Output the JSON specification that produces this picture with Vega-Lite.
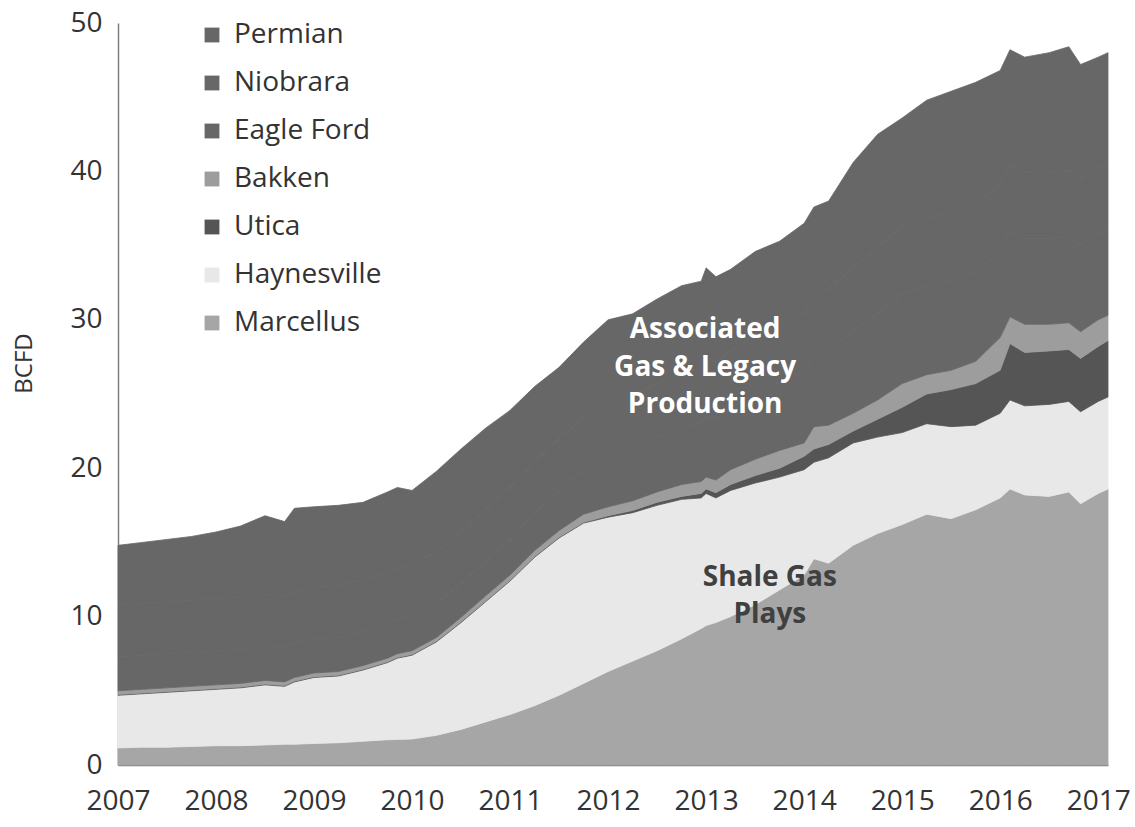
{
  "$schema": "https://vega.github.io/schema/vega-lite/v6.json",
  "width": 990,
  "height": 742,
  "autosize": {"type": "none"},
  "padding": {"left": 118, "top": 23, "right": 27, "bottom": 62},
  "background": "white",
  "config": {"view": {"stroke": null}, "font": "Open Sans"},
  "datasets": {
    "rank": [
      {"s":"Marcellus","k":1},{"s":"Haynesville","k":2},{"s":"Utica","k":3},{"s":"Bakken","k":4},{"s":"Eagle Ford","k":5},{"s":"Niobrara","k":6},{"s":"Permian","k":7}
    ],
    "prod": [
      {"t":2007.00,"s":"Marcellus","v":1.15},{"t":2007.00,"s":"Haynesville","v":3.55},{"t":2007.00,"s":"Utica","v":0.05},{"t":2007.00,"s":"Bakken","v":0.25},{"t":2007.00,"s":"Eagle Ford","v":2.3},{"t":2007.00,"s":"Niobrara","v":3.5},{"t":2007.00,"s":"Permian","v":4.0},
      {"t":2007.25,"s":"Marcellus","v":1.2},{"t":2007.25,"s":"Haynesville","v":3.6},{"t":2007.25,"s":"Utica","v":0.05},{"t":2007.25,"s":"Bakken","v":0.25},{"t":2007.25,"s":"Eagle Ford","v":2.3},{"t":2007.25,"s":"Niobrara","v":3.5},{"t":2007.25,"s":"Permian","v":4.1},
      {"t":2007.50,"s":"Marcellus","v":1.2},{"t":2007.50,"s":"Haynesville","v":3.7},{"t":2007.50,"s":"Utica","v":0.05},{"t":2007.50,"s":"Bakken","v":0.25},{"t":2007.50,"s":"Eagle Ford","v":2.3},{"t":2007.50,"s":"Niobrara","v":3.5},{"t":2007.50,"s":"Permian","v":4.2},
      {"t":2007.75,"s":"Marcellus","v":1.25},{"t":2007.75,"s":"Haynesville","v":3.75},{"t":2007.75,"s":"Utica","v":0.05},{"t":2007.75,"s":"Bakken","v":0.25},{"t":2007.75,"s":"Eagle Ford","v":2.3},{"t":2007.75,"s":"Niobrara","v":3.5},{"t":2007.75,"s":"Permian","v":4.3},
      {"t":2008.00,"s":"Marcellus","v":1.3},{"t":2008.00,"s":"Haynesville","v":3.8},{"t":2008.00,"s":"Utica","v":0.05},{"t":2008.00,"s":"Bakken","v":0.25},{"t":2008.00,"s":"Eagle Ford","v":2.3},{"t":2008.00,"s":"Niobrara","v":3.5},{"t":2008.00,"s":"Permian","v":4.5},
      {"t":2008.25,"s":"Marcellus","v":1.3},{"t":2008.25,"s":"Haynesville","v":3.9},{"t":2008.25,"s":"Utica","v":0.05},{"t":2008.25,"s":"Bakken","v":0.25},{"t":2008.25,"s":"Eagle Ford","v":2.3},{"t":2008.25,"s":"Niobrara","v":3.5},{"t":2008.25,"s":"Permian","v":4.8},
      {"t":2008.50,"s":"Marcellus","v":1.35},{"t":2008.50,"s":"Haynesville","v":4.05},{"t":2008.50,"s":"Utica","v":0.05},{"t":2008.50,"s":"Bakken","v":0.25},{"t":2008.50,"s":"Eagle Ford","v":2.3},{"t":2008.50,"s":"Niobrara","v":3.5},{"t":2008.50,"s":"Permian","v":5.3},
      {"t":2008.70,"s":"Marcellus","v":1.4},{"t":2008.70,"s":"Haynesville","v":3.9},{"t":2008.70,"s":"Utica","v":0.05},{"t":2008.70,"s":"Bakken","v":0.25},{"t":2008.70,"s":"Eagle Ford","v":2.3},{"t":2008.70,"s":"Niobrara","v":3.5},{"t":2008.70,"s":"Permian","v":5.0},
      {"t":2008.80,"s":"Marcellus","v":1.4},{"t":2008.80,"s":"Haynesville","v":4.2},{"t":2008.80,"s":"Utica","v":0.05},{"t":2008.80,"s":"Bakken","v":0.25},{"t":2008.80,"s":"Eagle Ford","v":2.3},{"t":2008.80,"s":"Niobrara","v":3.5},{"t":2008.80,"s":"Permian","v":5.6},
      {"t":2009.00,"s":"Marcellus","v":1.45},{"t":2009.00,"s":"Haynesville","v":4.45},{"t":2009.00,"s":"Utica","v":0.05},{"t":2009.00,"s":"Bakken","v":0.25},{"t":2009.00,"s":"Eagle Ford","v":2.3},{"t":2009.00,"s":"Niobrara","v":3.5},{"t":2009.00,"s":"Permian","v":5.4},
      {"t":2009.25,"s":"Marcellus","v":1.5},{"t":2009.25,"s":"Haynesville","v":4.5},{"t":2009.25,"s":"Utica","v":0.05},{"t":2009.25,"s":"Bakken","v":0.25},{"t":2009.25,"s":"Eagle Ford","v":2.3},{"t":2009.25,"s":"Niobrara","v":3.5},{"t":2009.25,"s":"Permian","v":5.4},
      {"t":2009.50,"s":"Marcellus","v":1.6},{"t":2009.50,"s":"Haynesville","v":4.8},{"t":2009.50,"s":"Utica","v":0.05},{"t":2009.50,"s":"Bakken","v":0.25},{"t":2009.50,"s":"Eagle Ford","v":2.3},{"t":2009.50,"s":"Niobrara","v":3.5},{"t":2009.50,"s":"Permian","v":5.2},
      {"t":2009.75,"s":"Marcellus","v":1.7},{"t":2009.75,"s":"Haynesville","v":5.2},{"t":2009.75,"s":"Utica","v":0.05},{"t":2009.75,"s":"Bakken","v":0.25},{"t":2009.75,"s":"Eagle Ford","v":2.3},{"t":2009.75,"s":"Niobrara","v":3.5},{"t":2009.75,"s":"Permian","v":5.4},
      {"t":2009.85,"s":"Marcellus","v":1.72},{"t":2009.85,"s":"Haynesville","v":5.48},{"t":2009.85,"s":"Utica","v":0.05},{"t":2009.85,"s":"Bakken","v":0.25},{"t":2009.85,"s":"Eagle Ford","v":2.3},{"t":2009.85,"s":"Niobrara","v":3.5},{"t":2009.85,"s":"Permian","v":5.4},
      {"t":2010.00,"s":"Marcellus","v":1.75},{"t":2010.00,"s":"Haynesville","v":5.65},{"t":2010.00,"s":"Utica","v":0.05},{"t":2010.00,"s":"Bakken","v":0.25},{"t":2010.00,"s":"Eagle Ford","v":2.3},{"t":2010.00,"s":"Niobrara","v":3.5},{"t":2010.00,"s":"Permian","v":5.0},
      {"t":2010.25,"s":"Marcellus","v":2.0},{"t":2010.25,"s":"Haynesville","v":6.3},{"t":2010.25,"s":"Utica","v":0.05},{"t":2010.25,"s":"Bakken","v":0.25},{"t":2010.25,"s":"Eagle Ford","v":2.3},{"t":2010.25,"s":"Niobrara","v":3.5},{"t":2010.25,"s":"Permian","v":5.4},
      {"t":2010.50,"s":"Marcellus","v":2.4},{"t":2010.50,"s":"Haynesville","v":7.2},{"t":2010.50,"s":"Utica","v":0.05},{"t":2010.50,"s":"Bakken","v":0.3},{"t":2010.50,"s":"Eagle Ford","v":2.3},{"t":2010.50,"s":"Niobrara","v":3.5},{"t":2010.50,"s":"Permian","v":5.55},
      {"t":2010.75,"s":"Marcellus","v":2.9},{"t":2010.75,"s":"Haynesville","v":8.1},{"t":2010.75,"s":"Utica","v":0.05},{"t":2010.75,"s":"Bakken","v":0.35},{"t":2010.75,"s":"Eagle Ford","v":2.3},{"t":2010.75,"s":"Niobrara","v":3.5},{"t":2010.75,"s":"Permian","v":5.5},
      {"t":2011.00,"s":"Marcellus","v":3.4},{"t":2011.00,"s":"Haynesville","v":9.0},{"t":2011.00,"s":"Utica","v":0.05},{"t":2011.00,"s":"Bakken","v":0.35},{"t":2011.00,"s":"Eagle Ford","v":2.4},{"t":2011.00,"s":"Niobrara","v":3.5},{"t":2011.00,"s":"Permian","v":5.2},
      {"t":2011.25,"s":"Marcellus","v":4.0},{"t":2011.25,"s":"Haynesville","v":10.0},{"t":2011.25,"s":"Utica","v":0.05},{"t":2011.25,"s":"Bakken","v":0.4},{"t":2011.25,"s":"Eagle Ford","v":2.5},{"t":2011.25,"s":"Niobrara","v":3.5},{"t":2011.25,"s":"Permian","v":5.05},
      {"t":2011.50,"s":"Marcellus","v":4.7},{"t":2011.50,"s":"Haynesville","v":10.6},{"t":2011.50,"s":"Utica","v":0.05},{"t":2011.50,"s":"Bakken","v":0.45},{"t":2011.50,"s":"Eagle Ford","v":2.7},{"t":2011.50,"s":"Niobrara","v":3.5},{"t":2011.50,"s":"Permian","v":4.8},
      {"t":2011.75,"s":"Marcellus","v":5.5},{"t":2011.75,"s":"Haynesville","v":10.8},{"t":2011.75,"s":"Utica","v":0.05},{"t":2011.75,"s":"Bakken","v":0.55},{"t":2011.75,"s":"Eagle Ford","v":3.0},{"t":2011.75,"s":"Niobrara","v":3.5},{"t":2011.75,"s":"Permian","v":5.1},
      {"t":2012.00,"s":"Marcellus","v":6.3},{"t":2012.00,"s":"Haynesville","v":10.4},{"t":2012.00,"s":"Utica","v":0.1},{"t":2012.00,"s":"Bakken","v":0.6},{"t":2012.00,"s":"Eagle Ford","v":3.3},{"t":2012.00,"s":"Niobrara","v":3.6},{"t":2012.00,"s":"Permian","v":5.7},
      {"t":2012.25,"s":"Marcellus","v":7.0},{"t":2012.25,"s":"Haynesville","v":10.0},{"t":2012.25,"s":"Utica","v":0.15},{"t":2012.25,"s":"Bakken","v":0.65},{"t":2012.25,"s":"Eagle Ford","v":3.5},{"t":2012.25,"s":"Niobrara","v":3.6},{"t":2012.25,"s":"Permian","v":5.5},
      {"t":2012.50,"s":"Marcellus","v":7.7},{"t":2012.50,"s":"Haynesville","v":9.8},{"t":2012.50,"s":"Utica","v":0.2},{"t":2012.50,"s":"Bakken","v":0.7},{"t":2012.50,"s":"Eagle Ford","v":3.7},{"t":2012.50,"s":"Niobrara","v":3.6},{"t":2012.50,"s":"Permian","v":5.7},
      {"t":2012.75,"s":"Marcellus","v":8.5},{"t":2012.75,"s":"Haynesville","v":9.4},{"t":2012.75,"s":"Utica","v":0.2},{"t":2012.75,"s":"Bakken","v":0.8},{"t":2012.75,"s":"Eagle Ford","v":3.9},{"t":2012.75,"s":"Niobrara","v":3.6},{"t":2012.75,"s":"Permian","v":5.9},
      {"t":2012.95,"s":"Marcellus","v":9.2},{"t":2012.95,"s":"Haynesville","v":8.8},{"t":2012.95,"s":"Utica","v":0.3},{"t":2012.95,"s":"Bakken","v":0.8},{"t":2012.95,"s":"Eagle Ford","v":4.0},{"t":2012.95,"s":"Niobrara","v":3.7},{"t":2012.95,"s":"Permian","v":5.8},
      {"t":2013.00,"s":"Marcellus","v":9.4},{"t":2013.00,"s":"Haynesville","v":8.9},{"t":2013.00,"s":"Utica","v":0.3},{"t":2013.00,"s":"Bakken","v":0.8},{"t":2013.00,"s":"Eagle Ford","v":4.1},{"t":2013.00,"s":"Niobrara","v":3.8},{"t":2013.00,"s":"Permian","v":6.2},
      {"t":2013.10,"s":"Marcellus","v":9.6},{"t":2013.10,"s":"Haynesville","v":8.4},{"t":2013.10,"s":"Utica","v":0.35},{"t":2013.10,"s":"Bakken","v":0.85},{"t":2013.10,"s":"Eagle Ford","v":4.1},{"t":2013.10,"s":"Niobrara","v":3.8},{"t":2013.10,"s":"Permian","v":5.8},
      {"t":2013.25,"s":"Marcellus","v":10.0},{"t":2013.25,"s":"Haynesville","v":8.5},{"t":2013.25,"s":"Utica","v":0.4},{"t":2013.25,"s":"Bakken","v":1.0},{"t":2013.25,"s":"Eagle Ford","v":4.2},{"t":2013.25,"s":"Niobrara","v":3.8},{"t":2013.25,"s":"Permian","v":5.5},
      {"t":2013.50,"s":"Marcellus","v":10.8},{"t":2013.50,"s":"Haynesville","v":8.2},{"t":2013.50,"s":"Utica","v":0.5},{"t":2013.50,"s":"Bakken","v":1.1},{"t":2013.50,"s":"Eagle Ford","v":4.4},{"t":2013.50,"s":"Niobrara","v":3.9},{"t":2013.50,"s":"Permian","v":5.7},
      {"t":2013.75,"s":"Marcellus","v":11.8},{"t":2013.75,"s":"Haynesville","v":7.6},{"t":2013.75,"s":"Utica","v":0.6},{"t":2013.75,"s":"Bakken","v":1.2},{"t":2013.75,"s":"Eagle Ford","v":4.6},{"t":2013.75,"s":"Niobrara","v":3.9},{"t":2013.75,"s":"Permian","v":5.6},
      {"t":2014.00,"s":"Marcellus","v":12.8},{"t":2014.00,"s":"Haynesville","v":7.1},{"t":2014.00,"s":"Utica","v":0.9},{"t":2014.00,"s":"Bakken","v":0.9},{"t":2014.00,"s":"Eagle Ford","v":4.8},{"t":2014.00,"s":"Niobrara","v":4.0},{"t":2014.00,"s":"Permian","v":6.0},
      {"t":2014.10,"s":"Marcellus","v":13.9},{"t":2014.10,"s":"Haynesville","v":6.5},{"t":2014.10,"s":"Utica","v":0.9},{"t":2014.10,"s":"Bakken","v":1.5},{"t":2014.10,"s":"Eagle Ford","v":4.9},{"t":2014.10,"s":"Niobrara","v":4.0},{"t":2014.10,"s":"Permian","v":5.9},
      {"t":2014.25,"s":"Marcellus","v":13.6},{"t":2014.25,"s":"Haynesville","v":7.1},{"t":2014.25,"s":"Utica","v":0.9},{"t":2014.25,"s":"Bakken","v":1.3},{"t":2014.25,"s":"Eagle Ford","v":5.1},{"t":2014.25,"s":"Niobrara","v":4.1},{"t":2014.25,"s":"Permian","v":5.9},
      {"t":2014.50,"s":"Marcellus","v":14.8},{"t":2014.50,"s":"Haynesville","v":6.9},{"t":2014.50,"s":"Utica","v":0.8},{"t":2014.50,"s":"Bakken","v":1.2},{"t":2014.50,"s":"Eagle Ford","v":5.5},{"t":2014.50,"s":"Niobrara","v":4.3},{"t":2014.50,"s":"Permian","v":7.1},
      {"t":2014.75,"s":"Marcellus","v":15.6},{"t":2014.75,"s":"Haynesville","v":6.5},{"t":2014.75,"s":"Utica","v":1.2},{"t":2014.75,"s":"Bakken","v":1.3},{"t":2014.75,"s":"Eagle Ford","v":5.8},{"t":2014.75,"s":"Niobrara","v":4.5},{"t":2014.75,"s":"Permian","v":7.6},
      {"t":2015.00,"s":"Marcellus","v":16.2},{"t":2015.00,"s":"Haynesville","v":6.2},{"t":2015.00,"s":"Utica","v":1.7},{"t":2015.00,"s":"Bakken","v":1.6},{"t":2015.00,"s":"Eagle Ford","v":6.0},{"t":2015.00,"s":"Niobrara","v":4.6},{"t":2015.00,"s":"Permian","v":7.3},
      {"t":2015.25,"s":"Marcellus","v":16.9},{"t":2015.25,"s":"Haynesville","v":6.1},{"t":2015.25,"s":"Utica","v":2.0},{"t":2015.25,"s":"Bakken","v":1.3},{"t":2015.25,"s":"Eagle Ford","v":6.0},{"t":2015.25,"s":"Niobrara","v":4.6},{"t":2015.25,"s":"Permian","v":7.9},
      {"t":2015.50,"s":"Marcellus","v":16.6},{"t":2015.50,"s":"Haynesville","v":6.2},{"t":2015.50,"s":"Utica","v":2.5},{"t":2015.50,"s":"Bakken","v":1.3},{"t":2015.50,"s":"Eagle Ford","v":6.0},{"t":2015.50,"s":"Niobrara","v":4.6},{"t":2015.50,"s":"Permian","v":8.2},
      {"t":2015.75,"s":"Marcellus","v":17.2},{"t":2015.75,"s":"Haynesville","v":5.7},{"t":2015.75,"s":"Utica","v":2.8},{"t":2015.75,"s":"Bakken","v":1.5},{"t":2015.75,"s":"Eagle Ford","v":6.0},{"t":2015.75,"s":"Niobrara","v":4.6},{"t":2015.75,"s":"Permian","v":8.2},
      {"t":2016.00,"s":"Marcellus","v":18.0},{"t":2016.00,"s":"Haynesville","v":5.7},{"t":2016.00,"s":"Utica","v":2.9},{"t":2016.00,"s":"Bakken","v":2.2},{"t":2016.00,"s":"Eagle Ford","v":5.8},{"t":2016.00,"s":"Niobrara","v":4.5},{"t":2016.00,"s":"Permian","v":7.7},
      {"t":2016.10,"s":"Marcellus","v":18.6},{"t":2016.10,"s":"Haynesville","v":6.0},{"t":2016.10,"s":"Utica","v":3.8},{"t":2016.10,"s":"Bakken","v":1.8},{"t":2016.10,"s":"Eagle Ford","v":5.8},{"t":2016.10,"s":"Niobrara","v":4.5},{"t":2016.10,"s":"Permian","v":7.7},
      {"t":2016.25,"s":"Marcellus","v":18.2},{"t":2016.25,"s":"Haynesville","v":6.0},{"t":2016.25,"s":"Utica","v":3.6},{"t":2016.25,"s":"Bakken","v":1.9},{"t":2016.25,"s":"Eagle Ford","v":5.8},{"t":2016.25,"s":"Niobrara","v":4.5},{"t":2016.25,"s":"Permian","v":7.7},
      {"t":2016.50,"s":"Marcellus","v":18.1},{"t":2016.50,"s":"Haynesville","v":6.2},{"t":2016.50,"s":"Utica","v":3.6},{"t":2016.50,"s":"Bakken","v":1.8},{"t":2016.50,"s":"Eagle Ford","v":5.8},{"t":2016.50,"s":"Niobrara","v":4.5},{"t":2016.50,"s":"Permian","v":8.0},
      {"t":2016.70,"s":"Marcellus","v":18.4},{"t":2016.70,"s":"Haynesville","v":6.1},{"t":2016.70,"s":"Utica","v":3.5},{"t":2016.70,"s":"Bakken","v":1.8},{"t":2016.70,"s":"Eagle Ford","v":5.8},{"t":2016.70,"s":"Niobrara","v":4.5},{"t":2016.70,"s":"Permian","v":8.3},
      {"t":2016.82,"s":"Marcellus","v":17.6},{"t":2016.82,"s":"Haynesville","v":6.2},{"t":2016.82,"s":"Utica","v":3.6},{"t":2016.82,"s":"Bakken","v":1.8},{"t":2016.82,"s":"Eagle Ford","v":5.8},{"t":2016.82,"s":"Niobrara","v":4.5},{"t":2016.82,"s":"Permian","v":7.7},
      {"t":2017.00,"s":"Marcellus","v":18.3},{"t":2017.00,"s":"Haynesville","v":6.2},{"t":2017.00,"s":"Utica","v":3.7},{"t":2017.00,"s":"Bakken","v":1.8},{"t":2017.00,"s":"Eagle Ford","v":5.8},{"t":2017.00,"s":"Niobrara","v":4.5},{"t":2017.00,"s":"Permian","v":7.4},
      {"t":2017.10,"s":"Marcellus","v":18.6},{"t":2017.10,"s":"Haynesville","v":6.2},{"t":2017.10,"s":"Utica","v":3.8},{"t":2017.10,"s":"Bakken","v":1.7},{"t":2017.10,"s":"Eagle Ford","v":5.8},{"t":2017.10,"s":"Niobrara","v":4.5},{"t":2017.10,"s":"Permian","v":7.4}
    ],
    "assoc": [
      {"t":2012.99,"v":29.3,"txt":"Associated"},
      {"t":2012.99,"v":26.75,"txt":"Gas & Legacy"},
      {"t":2012.99,"v":24.25,"txt":"Production"}
    ],
    "shale": [
      {"t":2013.65,"v":12.6,"txt":"Shale Gas"},
      {"t":2013.65,"v":10.1,"txt":"Plays"}
    ]
  },
  "layer": [
    {
      "data": {"name": "prod"},
      "transform": [
        {"lookup": "s", "from": {"data": {"name": "rank"}, "key": "s", "fields": ["k"]}}
      ],
      "mark": {"type": "area", "interpolate": "linear", "strokeWidth": 0.8, "strokeJoin": "round"},
      "encoding": {
        "x": {
          "field": "t", "type": "quantitative",
          "scale": {"domain": [2007, 2017.1], "nice": false, "zero": false},
          "axis": {
            "values": [2007,2008,2009,2010,2011,2012,2013,2014,2015,2016,2017],
            "format": "d", "title": null, "grid": false, "ticks": false,
            "domainColor": "#7f7f7f", "domainWidth": 1.5,
            "labelFontSize": 28, "labelColor": "#333333", "labelPadding": 22,
            "labelFlush": false, "labelFont": "Open Sans"
          }
        },
        "y": {
          "field": "v", "type": "quantitative", "stack": "zero",
          "scale": {"domain": [0, 50], "nice": false},
          "axis": {
            "values": [0,10,20,30,40,50], "title": "BCFD", "grid": false, "ticks": false,
            "domainColor": "#7f7f7f", "domainWidth": 1.5,
            "labelFontSize": 28, "labelColor": "#333333", "labelPadding": 16,
            "labelFont": "Open Sans",
            "titleFontSize": 24, "titleFontWeight": "normal", "titleColor": "#333333",
            "titleFont": "Open Sans", "titleX": -82, "titleY": 340
          }
        },
        "order": {"field": "k", "type": "quantitative", "sort": "ascending"},
        "color": {
          "field": "s", "type": "nominal",
          "scale": {
            "domain": ["Permian","Niobrara","Eagle Ford","Bakken","Utica","Haynesville","Marcellus"],
            "range": ["#676767","#676767","#676767","#9d9d9d","#555555","#e8e8e8","#a6a6a6"]
          },
          "legend": {
            "values": ["Permian","Niobrara","Eagle Ford","Bakken","Utica","Haynesville","Marcellus"],
            "title": null, "orient": "none", "legendX": 80, "legendY": -2,
            "symbolType": "square", "symbolSize": 220, "symbolStrokeWidth": 0,
            "labelFontSize": 28, "labelColor": "#333333", "labelFont": "Open Sans",
            "rowPadding": 20, "labelOffset": 8, "labelLimit": 400
          }
        },
        "stroke": {
          "field": "s", "type": "nominal",
          "scale": {
            "domain": ["Permian","Niobrara","Eagle Ford","Bakken","Utica","Haynesville","Marcellus"],
            "range": ["#676767","#676767","#676767","#9d9d9d","#555555","#e8e8e8","#a6a6a6"]
          },
          "legend": null
        }
      }
    },
    {
      "data": {"name": "assoc"},
      "mark": {"type": "text", "color": "white", "fontWeight": "bold", "fontSize": 28, "font": "Open Sans", "align": "center", "baseline": "middle"},
      "encoding": {
        "x": {"field": "t", "type": "quantitative"},
        "y": {"field": "v", "type": "quantitative"},
        "text": {"field": "txt"}
      }
    },
    {
      "data": {"name": "shale"},
      "mark": {"type": "text", "color": "#404040", "fontWeight": "bold", "fontSize": 28, "font": "Open Sans", "align": "center", "baseline": "middle"},
      "encoding": {
        "x": {"field": "t", "type": "quantitative"},
        "y": {"field": "v", "type": "quantitative"},
        "text": {"field": "txt"}
      }
    }
  ]
}
